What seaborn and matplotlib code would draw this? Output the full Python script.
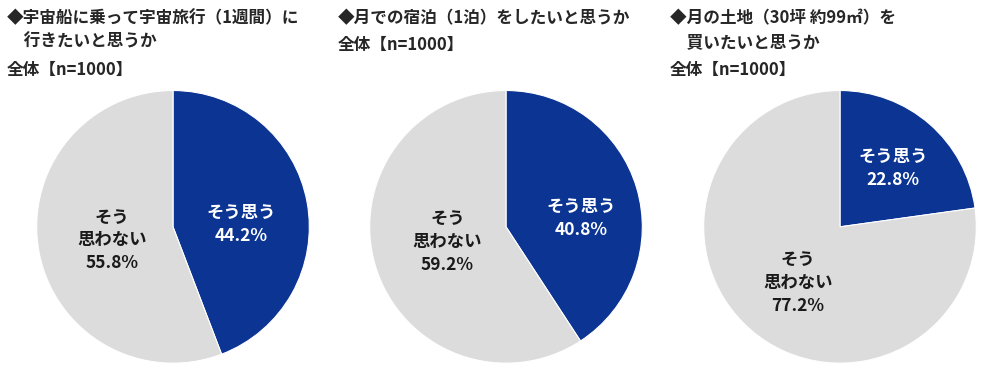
import seaborn as sns
import matplotlib.pyplot as plt

# Data
titles = [
    "◆宇宙船に乗って宇宙旅行（1週間）に\n　行きたいと思うか",
    "◆月での宿泊（1泊）をしたいと思うか",
    "◆月の土地（30坪 約99㎡）を\n　買いたいと思うか",
]
sample_label = "全体【n=1000】"
categories = ["そう思う", "そう\n思わない"]
yes_pct = [44.2, 40.8, 22.8]
no_pct = [55.8, 59.2, 77.2]

sns.set_theme(style="white")
plt.rcParams['font.family'] = ['Noto Sans CJK JP', 'DejaVu Sans']

colors = ["#0B3493", "#DCDCDC"]
text_colors = ["white", "#1a1a1a"]

# label placement inside each pie (in pie-radius units): [yes, no]
label_xy = [
    [(0.50, 0.015), (-0.445, -0.10)],
    [(0.55, 0.06), (-0.43, -0.11)],
    [(0.39, 0.43), (-0.31, -0.41)],
]

fig = plt.figure(figsize=(10, 3.74), dpi=100)

pie_lefts = [0.036, 0.369, 0.703]
title_x = [0.007, 0.338, 0.670]
# y of the "全体" line depends on title line count
sample_y = [0.812, 0.88, 0.812]

for i in range(3):
    ax = fig.add_axes([pie_lefts[i], 0.027, 0.274, 0.733])
    vals = [yes_pct[i], no_pct[i]]
    wedges, _ = ax.pie(vals, colors=colors, startangle=90, counterclock=False,
                       wedgeprops=dict(edgecolor="white", linewidth=0.8))
    ax.set_xlim(-1.005, 1.005)
    ax.set_ylim(-1.005, 1.005)
    ax.set_aspect("equal")
    for j in range(2):
        x, y = label_xy[i][j]
        ax.text(x, y, f"{categories[j]}\n{vals[j]:.1f}%", ha="center", va="center",
                color=text_colors[j], fontsize=12.5, fontweight="bold", linespacing=1.35)

    fig.text(title_x[i], 0.975, titles[i], ha="left", va="top", fontsize=12,
             fontweight="bold", linespacing=1.4)
    fig.text(title_x[i], sample_y[i], sample_label, ha="left", va="center",
             fontsize=12, fontweight="bold")

fig.savefig("out.png", dpi=100)
